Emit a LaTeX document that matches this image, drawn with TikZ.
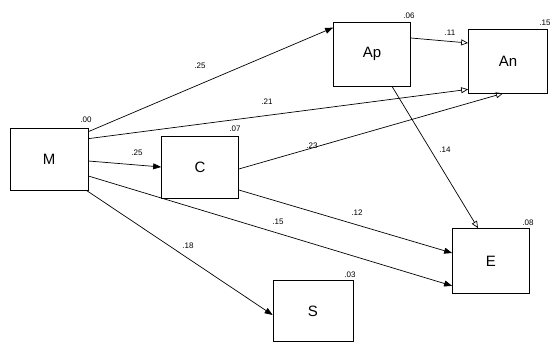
\documentclass[tikz,border=0pt]{standalone}
\usepackage{fontspec}
\setmainfont{Liberation Sans}
\usetikzlibrary{calc,arrows.meta}
\begin{document}
\begin{tikzpicture}[x=1pt,y=-1pt,
  box/.style={draw,line width=0.7pt,inner sep=0pt,font=\fontsize{15}{15}\selectfont},
  lbl/.style={inner sep=0pt,font=\fontsize{8}{8}\selectfont},
  conn/.style={line width=0.7pt},
  fa/.style={conn,-{Triangle[length=8pt,width=6pt]}},
  oa/.style={conn,-{Triangle[open,length=7pt,width=6pt]}}]
\useasboundingbox (0,0) rectangle (550,344);
\node[box,minimum width=78pt,minimum height=62pt] (M) at (49,159) {M};
\node[box,minimum width=77pt,minimum height=62pt] (C) at (200,167) {C};
\node[box,minimum width=77pt,minimum height=64pt] (Ap) at (372,54) {Ap};
\node[box,minimum width=79pt,minimum height=64pt] (An) at (508,61) {An};
\node[box,minimum width=77pt,minimum height=65pt] (E) at (491,261) {E};
\node[box,minimum width=80pt,minimum height=61pt] (S) at (313,311) {S};
% connectors
\draw[fa] ($(M.north east)+(0,4)$) -- ($(Ap.north west)+(0,6)$);
\draw[oa] ($(M.north east)+(0,11)$) -- ($(An.south west)+(0,-4)$);
\draw[fa] ($(M.east)+(0,2)$) -- (C.west);
\draw[fa] ($(M.east)+(0,17)$) -- ($(E.south west)+(0,-8)$);
\draw[fa] ($(M.south east)+(-2,0)$) -- ($(S.west)+(0,4)$);
\draw[oa] ($(C.east)+(0,2)$) -- ($(An.south)+(-5,0)$);
\draw[fa] ($(C.east)+(0,23)$) -- ($(E.west)+(0,-8)$);
\draw[oa] ($(Ap.east)+(0,-16)$) -- ($(An.west)+(0,-18)$);
\draw[oa] ($(Ap.south)+(20,0)$) -- ($(E.north)+(-13,0)$);
% labels
\node[lbl] (l1) at (86,120) {.00};
\node[lbl] (l2) at (200,66) {.25};
\node[lbl] (l3) at (267,102) {.21};
\node[lbl] (l4) at (235,129) {.07};
\node[lbl] (l5) at (137,153) {.25};
\node[lbl] (l6) at (312,146) {.23};
\node[lbl] (l7) at (445,150) {.14};
\node[lbl] (l8) at (357,213) {.12};
\node[lbl] (l9) at (278,222) {.15};
\node[lbl] (l10) at (188,246) {.18};
\node[lbl] (l11) at (350,275) {.03};
\node[lbl] (l12) at (528,223) {.08};
\node[lbl] (l13) at (409,16) {.06};
\node[lbl] (l14) at (450,33) {.11};
\node[lbl] (l15) at (545,23) {.15};
\end{tikzpicture}
\end{document}
